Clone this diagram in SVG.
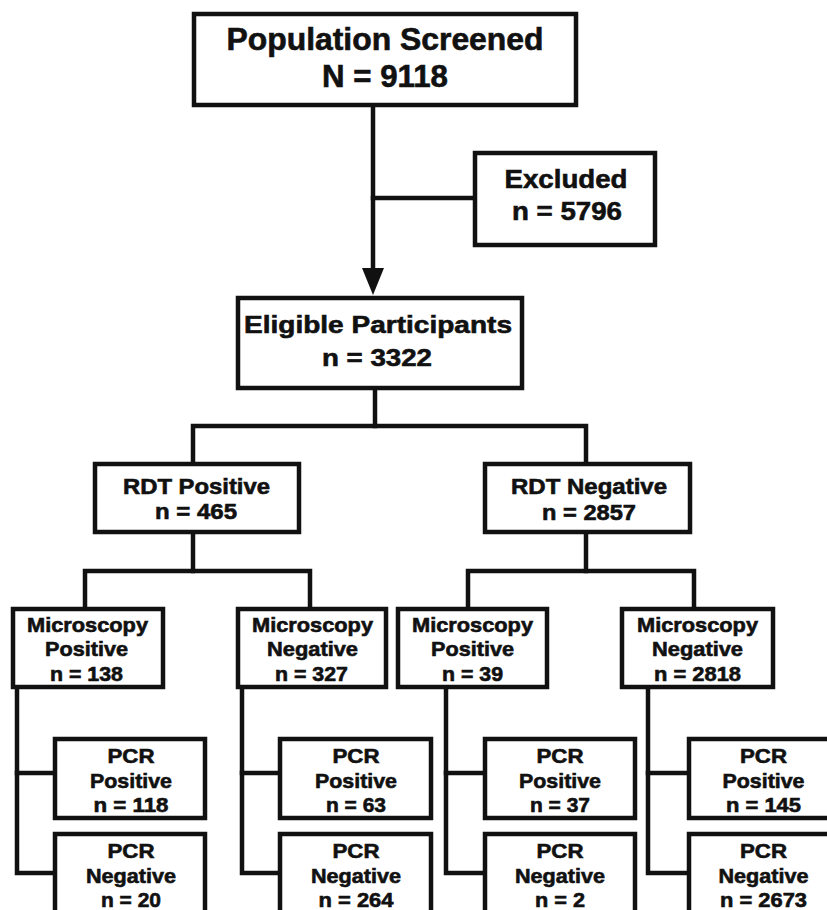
<svg xmlns="http://www.w3.org/2000/svg" width="827" height="910" viewBox="0 0 827 910">
<style>
rect.box{fill:#fff;stroke:#111;stroke-width:4.5}
.c line,.c polyline{stroke:#111;stroke-width:4.5;fill:none;stroke-linecap:square}
text{font-family:"Liberation Sans",Arial,Helvetica,sans-serif;font-weight:bold;fill:#111;stroke:#111;stroke-width:0.6;text-anchor:middle}
.t1{font-size:31px}
.t2{font-size:26.5px}
.t3{font-size:24.5px}
.t4{font-size:21.5px}
.t5{font-size:20px}
</style>
<rect width="827" height="910" fill="#fff"/>
<g class="c" id="connectors">
<line x1="373" y1="107" x2="373" y2="272"/>
<polygon points="362,268 384,268 373,295" fill="#111"/>
<line x1="373" y1="198" x2="473" y2="198"/>
<line x1="375" y1="390" x2="375" y2="426"/>
<polyline points="193,462 193,426 586,426 586,462"/>
<line x1="193" y1="533" x2="193" y2="571"/>
<polyline points="85,607 85,571 310,571 310,607"/>
<line x1="586" y1="534" x2="586" y2="571"/>
<polyline points="468,607 468,571 694,571 694,607"/>
<polyline points="53,773 17,773 17,873 53,873"/>
<line x1="17" y1="689" x2="17" y2="773"/>
<polyline points="278,773 242,773 242,873 278,873"/>
<line x1="242" y1="688" x2="242" y2="773"/>
<polyline points="483,773 446,773 446,873 483,873"/>
<line x1="446" y1="688" x2="446" y2="773"/>
<polyline points="687,773 648,773 648,873 687,873"/>
<line x1="648" y1="688" x2="648" y2="773"/>
</g>
<g id="population">
<rect class="box" x="194" y="14" width="382" height="91"/>
<text class="t1" x="385" y="50" textLength="317" lengthAdjust="spacingAndGlyphs">Population Screened</text>
<text class="t1" x="385" y="87" textLength="126" lengthAdjust="spacingAndGlyphs">N = 9118</text>
</g>
<g id="excluded">
<rect class="box" x="475" y="153" width="180" height="92"/>
<text class="t2" x="566" y="188" textLength="123" lengthAdjust="spacingAndGlyphs">Excluded</text>
<text class="t2" x="567" y="220" textLength="110" lengthAdjust="spacingAndGlyphs">n = 5796</text>
</g>
<g id="eligible">
<rect class="box" x="238" y="298" width="284" height="90"/>
<text class="t3" x="378" y="333" textLength="268" lengthAdjust="spacingAndGlyphs">Eligible Participants</text>
<text class="t3" x="377" y="366" textLength="110" lengthAdjust="spacingAndGlyphs">n = 3322</text>
</g>
<g id="rdt-positive">
<rect class="box" x="95" y="464" width="204" height="68"/>
<text class="t4" x="196.5" y="494" textLength="147" lengthAdjust="spacingAndGlyphs">RDT Positive</text>
<text class="t4" x="196" y="519" textLength="82" lengthAdjust="spacingAndGlyphs">n = 465</text>
</g>
<g id="rdt-negative">
<rect class="box" x="485" y="464" width="205" height="68"/>
<text class="t4" x="589" y="494" textLength="156" lengthAdjust="spacingAndGlyphs">RDT Negative</text>
<text class="t4" x="589" y="520" textLength="94" lengthAdjust="spacingAndGlyphs">n = 2857</text>
</g>
<g id="micro-pos-1">
<rect class="box" x="13" y="609" width="150" height="78"/>
<text class="t5" x="87.5" y="632" textLength="121" lengthAdjust="spacingAndGlyphs">Microscopy</text>
<text class="t5" x="86.5" y="656" textLength="83" lengthAdjust="spacingAndGlyphs">Positive</text>
<text class="t5" x="86.5" y="681" textLength="73" lengthAdjust="spacingAndGlyphs">n = 138</text>
</g>
<g id="micro-neg-1">
<rect class="box" x="238" y="609" width="148" height="78"/>
<text class="t5" x="312.5" y="632" textLength="121" lengthAdjust="spacingAndGlyphs">Microscopy</text>
<text class="t5" x="312.5" y="656" textLength="91" lengthAdjust="spacingAndGlyphs">Negative</text>
<text class="t5" x="311.5" y="681" textLength="73" lengthAdjust="spacingAndGlyphs">n = 327</text>
</g>
<g id="micro-pos-2">
<rect class="box" x="398" y="609" width="149" height="78"/>
<text class="t5" x="472.5" y="632" textLength="121" lengthAdjust="spacingAndGlyphs">Microscopy</text>
<text class="t5" x="472.5" y="656" textLength="83" lengthAdjust="spacingAndGlyphs">Positive</text>
<text class="t5" x="472.5" y="681" textLength="61" lengthAdjust="spacingAndGlyphs">n = 39</text>
</g>
<g id="micro-neg-2">
<rect class="box" x="622" y="609" width="151" height="78"/>
<text class="t5" x="697.5" y="632" textLength="121" lengthAdjust="spacingAndGlyphs">Microscopy</text>
<text class="t5" x="697.5" y="656" textLength="91" lengthAdjust="spacingAndGlyphs">Negative</text>
<text class="t5" x="697.5" y="681" textLength="87" lengthAdjust="spacingAndGlyphs">n = 2818</text>
</g>
<g id="pcr-pos-1">
<rect class="box" x="55" y="739" width="150" height="79"/>
<text class="t5" x="131" y="763" textLength="47" lengthAdjust="spacingAndGlyphs">PCR</text>
<text class="t5" x="131" y="788" textLength="82" lengthAdjust="spacingAndGlyphs">Positive</text>
<text class="t5" x="131" y="812" textLength="75" lengthAdjust="spacingAndGlyphs">n = 118</text>
</g>
<g id="pcr-neg-1">
<rect class="box" x="55" y="834" width="150" height="100"/>
<text class="t5" x="131" y="858" textLength="47" lengthAdjust="spacingAndGlyphs">PCR</text>
<text class="t5" x="131" y="883" textLength="90" lengthAdjust="spacingAndGlyphs">Negative</text>
<text class="t5" x="131" y="907" textLength="60" lengthAdjust="spacingAndGlyphs">n = 20</text>
</g>
<g id="pcr-pos-2">
<rect class="box" x="280" y="739" width="151" height="79"/>
<text class="t5" x="356" y="763" textLength="47" lengthAdjust="spacingAndGlyphs">PCR</text>
<text class="t5" x="356" y="788" textLength="82" lengthAdjust="spacingAndGlyphs">Positive</text>
<text class="t5" x="356" y="812" textLength="60" lengthAdjust="spacingAndGlyphs">n = 63</text>
</g>
<g id="pcr-neg-2">
<rect class="box" x="280" y="834" width="151" height="100"/>
<text class="t5" x="356" y="858" textLength="47" lengthAdjust="spacingAndGlyphs">PCR</text>
<text class="t5" x="356" y="883" textLength="90" lengthAdjust="spacingAndGlyphs">Negative</text>
<text class="t5" x="356" y="907" textLength="75" lengthAdjust="spacingAndGlyphs">n = 264</text>
</g>
<g id="pcr-pos-3">
<rect class="box" x="485" y="739" width="150" height="79"/>
<text class="t5" x="560" y="763" textLength="47" lengthAdjust="spacingAndGlyphs">PCR</text>
<text class="t5" x="560" y="788" textLength="82" lengthAdjust="spacingAndGlyphs">Positive</text>
<text class="t5" x="560" y="812" textLength="60" lengthAdjust="spacingAndGlyphs">n = 37</text>
</g>
<g id="pcr-neg-3">
<rect class="box" x="485" y="834" width="150" height="100"/>
<text class="t5" x="560" y="858" textLength="47" lengthAdjust="spacingAndGlyphs">PCR</text>
<text class="t5" x="560" y="883" textLength="90" lengthAdjust="spacingAndGlyphs">Negative</text>
<text class="t5" x="560" y="907" textLength="50" lengthAdjust="spacingAndGlyphs">n = 2</text>
</g>
<g id="pcr-pos-4">
<rect class="box" x="689" y="739" width="150" height="79"/>
<text class="t5" x="763.5" y="763" textLength="47" lengthAdjust="spacingAndGlyphs">PCR</text>
<text class="t5" x="763.5" y="788" textLength="82" lengthAdjust="spacingAndGlyphs">Positive</text>
<text class="t5" x="763.5" y="812" textLength="75" lengthAdjust="spacingAndGlyphs">n = 145</text>
</g>
<g id="pcr-neg-4">
<rect class="box" x="689" y="834" width="150" height="100"/>
<text class="t5" x="763.5" y="858" textLength="47" lengthAdjust="spacingAndGlyphs">PCR</text>
<text class="t5" x="763.5" y="883" textLength="90" lengthAdjust="spacingAndGlyphs">Negative</text>
<text class="t5" x="763.5" y="907" textLength="87" lengthAdjust="spacingAndGlyphs">n = 2673</text>
</g>
</svg>
